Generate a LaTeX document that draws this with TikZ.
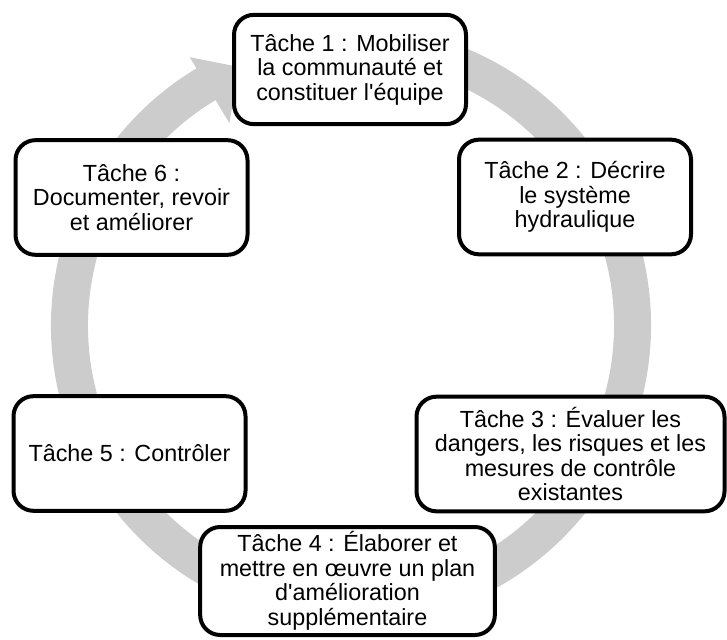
\documentclass[tikz,border=0pt]{standalone}
\usepackage{fontspec}
\setmainfont{Liberation Sans}[Ligatures=TeXOff]
\usepackage{tikz}

\definecolor{ringgray}{RGB}{204,204,204}

\tikzset{
  taskbox/.style={draw=black, line width=3pt, rounded corners=15pt, fill=white,
    align=center, inner sep=0pt, minimum width=174pt, minimum height=86pt,
    font=\fontsize{17.5pt}{18.4pt}\selectfont}
}

\begin{document}
\begin{tikzpicture}[x=0.75pt,y=0.75pt]
\useasboundingbox (0,0) rectangle (727,639);
\coordinate (c) at (351,313.5);
\fill[ringgray, shift={(c)}] (78:300) arc[start angle=78, end angle=-239, radius=300]
  -- (-239:313) -- (-246.5:282) -- (-239:236) -- (-239:263)
  arc[start angle=-239, end angle=78, radius=263] -- cycle;

\node[taskbox, minimum height=82pt] (t1) at (350,569.5) {T\^ache 1 : Mobiliser\\la communaut\'e et\\constituer l'\'equipe};
\node[taskbox] (t2) at (575,442) {T\^ache 2 : D\'ecrire\\le syst\`eme\\hydraulique};
\node[taskbox, minimum width=231pt] (t3) at (570.5,185) {T\^ache 3 : \'Evaluer les\\dangers, les risques et les\\mesures de contr\^ole\\existantes};
\node[taskbox, minimum width=221pt, minimum height=81pt] (t4) at (347.5,58) {T\^ache 4 : \'Elaborer et\\mettre en \oe uvre un plan\\d'am\'elioration\\suppl\'ementaire};
\node[taskbox] (t5) at (129.5,185.5) {T\^ache 5 : Contr\^oler};
\node[taskbox] (t6) at (131.5,441.5) {T\^ache 6 :\\Documenter, revoir\\et am\'eliorer};

\end{tikzpicture}
\end{document}
